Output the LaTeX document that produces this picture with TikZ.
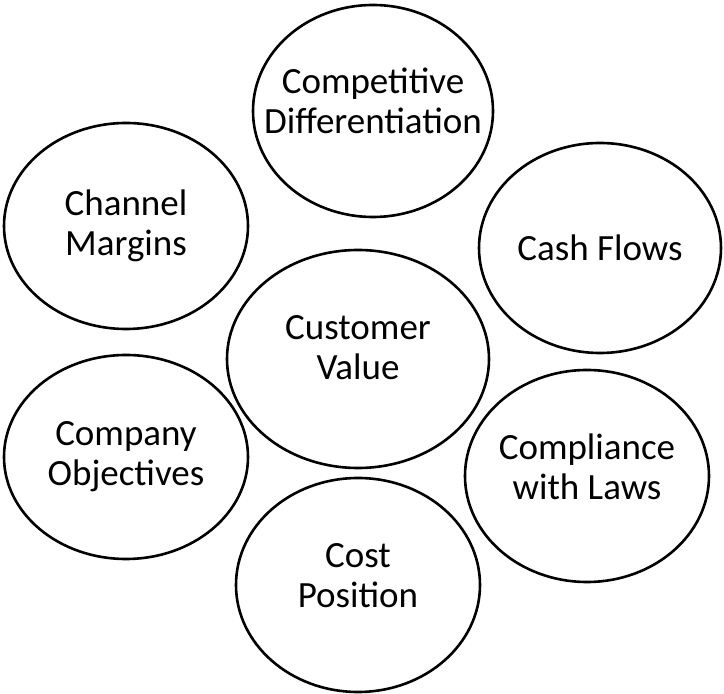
\documentclass[tikz,border=0pt]{standalone}
\usepackage{fontspec}
\setmainfont{Carlito}
\usetikzlibrary{shapes.geometric}

\tikzset{
  bubble/.style={draw, ellipse, line width=1.3pt, inner sep=0pt},
  bubbletext/.style={align=center, font=\fontsize{18.5}{20}\selectfont}
}

\begin{document}
\begin{tikzpicture}[x=0.5pt, y=-0.5pt]
\useasboundingbox (0,0) rectangle (724,694);
% name/x/y/rx/ry/text shift/text
\foreach \nm/\cx/\cy/\rx/\ry/\sh/\txt in {%
    compdiff/373/111/120/106/5/{Competitive\\Differentiation},
    chanmarg/126/226/122/103/0/{Channel\\Margins},
    cashflow/600/248/121/105/0/{Cash Flows},
    custval/358/359/131/109/5.5/{Customer\\Value},
    compobj/126/457/122/102/0/{Company\\Objectives},
    complaws/587/476/122/106/4.5/{Compliance\\with Laws},
    costpos/358/585/122/107/4.5/{Cost\\Position}} {%
    \node[bubble, minimum width=\rx pt, minimum height=\ry pt,
          label={[bubbletext, name=\nm-txt, yshift=\sh pt]center:\txt}]
          (\nm) at (\cx,\cy) {};
}
\end{tikzpicture}
\end{document}
